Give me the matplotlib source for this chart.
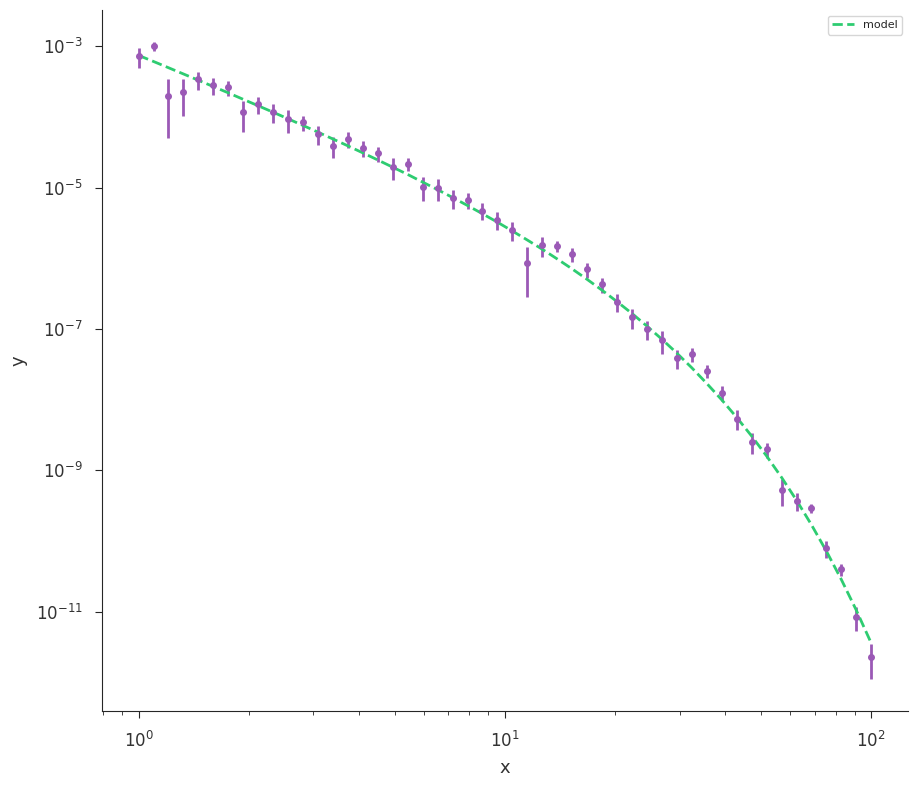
import numpy as np
import matplotlib
matplotlib.use("Agg")
import matplotlib.pyplot as plt
import seaborn as sns

# measured points (log-spaced x from 1 to 100)
x = [1.000, 1.099, 1.207, 1.326, 1.456, 1.600, 1.758, 1.931, 2.121, 2.330,
     2.560, 2.812, 3.089, 3.393, 3.728, 4.095, 4.498, 4.942, 5.429, 5.964,
     6.551, 7.197, 7.906, 8.685, 9.541, 10.48, 11.51, 12.65, 13.89, 15.26,
     16.77, 18.42, 20.24, 22.23, 24.42, 26.83, 29.47, 32.37, 35.56, 39.07,
     42.92, 47.15, 51.79, 56.90, 62.51, 68.66, 75.43, 82.86, 91.03, 100.0]

y = [7.2e-4, 1.0e-3, 2.0e-4, 2.25e-4, 3.4e-4, 2.82e-4, 2.62e-4, 1.16e-4, 1.52e-4, 1.17e-4,
     9.3e-5, 8.4e-5, 5.77e-5, 3.9e-5, 4.85e-5, 3.62e-5, 3.08e-5, 1.95e-5, 2.18e-5, 1.03e-5,
     1.0e-5, 7.2e-6, 6.7e-6, 4.75e-6, 3.54e-6, 2.53e-6, 8.7e-7, 1.54e-6, 1.51e-6, 1.14e-6,
     7.0e-7, 4.3e-7, 2.45e-7, 1.47e-7, 1.0e-7, 7.0e-8, 3.9e-8, 4.4e-8, 2.54e-8, 1.26e-8,
     5.4e-9, 2.56e-9, 1.98e-9, 5.35e-10, 3.74e-10, 2.92e-10, 7.9e-11, 4.0e-11, 8.5e-12, 2.3e-12]

yerr = [2.2e-4, 1.5e-4, 1.5e-4, 1.2e-4, 0.95e-4, 0.76e-4, 0.62e-4, 0.54e-4, 0.43e-4, 0.35e-4,
        3.3e-5, 2.0e-5, 1.8e-5, 1.3e-5, 1.2e-5, 0.93e-5, 0.74e-5, 0.67e-5, 0.44e-5, 0.38e-5,
        0.35e-5, 2.2e-6, 1.7e-6, 1.3e-6, 1.0e-6, 0.76e-6, 5.9e-7, 4.8e-7, 2.6e-7, 2.4e-7,
        1.7e-7, 1.05e-7, 0.69e-7, 0.46e-7, 0.31e-7, 2.5e-8, 1.2e-8, 1.0e-8, 0.54e-8, 0.3e-8,
        1.7e-9, 0.87e-9, 0.47e-9, 2.2e-10, 1.06e-10, 0.44e-10, 2.2e-11, 0.8e-11, 3.2e-12, 1.2e-12]

# model curve, same x grid
model = [7.46e-4, 6.11e-4, 4.99e-4, 4.07e-4, 3.32e-4, 2.70e-4, 2.20e-4, 1.78e-4, 1.445e-4, 1.17e-4,
         9.44e-5, 7.60e-5, 6.11e-5, 4.89e-5, 3.91e-5, 3.11e-5, 2.47e-5, 1.95e-5, 1.54e-5, 1.20e-5,
         9.38e-6, 7.27e-6, 5.60e-6, 4.28e-6, 3.25e-6, 2.44e-6, 1.82e-6, 1.345e-6, 9.82e-7, 7.09e-7,
         5.04e-7, 3.54e-7, 2.44e-7, 1.66e-7, 1.10e-7, 7.17e-8, 4.56e-8, 2.83e-8, 1.70e-8, 9.96e-9,
         5.62e-9, 3.06e-9, 1.60e-9, 7.96e-10, 3.78e-10, 1.70e-10, 7.19e-11, 2.85e-11, 1.05e-11, 3.58e-12]

sns.set_style("ticks")

fig = plt.figure(figsize=(9.18, 7.86), dpi=100)
ax = fig.add_axes([0.111, 0.095, 0.878, 0.892])

ax.errorbar(x, y, yerr=yerr, fmt="o", color="#9b59b6", ms=4, elinewidth=2, capsize=0)
ax.plot(x, model, "--", color="#2ecc71", lw=2, label="model")

ax.set_xscale("log")
ax.set_yscale("log")
ax.set_xlabel("x", fontsize=13, color="#333333", labelpad=6)
ax.set_ylabel("y", fontsize=13, color="#333333", labelpad=6)
ax.tick_params(labelsize=12, labelcolor="#333333", pad=9, length=5)
ax.tick_params(which="minor", length=3)
ax.legend(loc="upper right", fontsize=8)
sns.despine(ax=ax)

fig.savefig("out.png", dpi=100)
